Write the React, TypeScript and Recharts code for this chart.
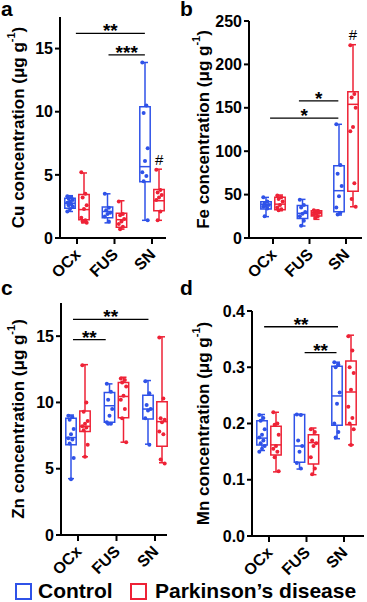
import React from "react";
import { ComposedChart, XAxis, YAxis, Scatter, ReferenceArea, ReferenceLine } from "recharts";

const BLUE = "#2f52e8";
const RED = "#ee2236";
const FONT = "Arial, 'Liberation Sans', Helvetica, sans-serif";

const regions = ["OCx", "FUS", "SN"];

// box stats per region: [min, q1, median, q3, max]
const cuCtrlBox = [[2.1, 2.35, 2.75, 3.15, 3.35], [1.2, 1.6, 2.1, 2.45, 3.5], [1.4, 4.45, 5.65, 10.4, 13.9]];
const cuPdBox = [[1.2, 1.45, 2.25, 3.45, 5.15], [0.7, 0.85, 1.45, 1.95, 2.95], [1.4, 2.15, 2.95, 3.85, 5.45]];
const cuCtrlPts = [[3.3, 3.2, 3.1, 3.0, 2.9, 2.8, 2.7, 2.6, 2.5, 2.3, 2.1], [3.5, 2.4, 2.2, 2.0, 1.9, 1.7, 1.3], [13.9, 10.5, 9.9, 7.1, 6.1, 5.2, 4.9, 4.5, 1.4]];
const cuPdPts = [[5.2, 3.5, 3.2, 2.6, 2.3, 1.6, 1.4, 1.3, 1.2], [2.9, 1.9, 1.8, 1.5, 1.3, 1.1, 0.9, 0.7], [5.4, 3.8, 3.6, 3.4, 3.2, 3.0, 2.1, 1.4]];

const feCtrlBox = [[24.6, 33.4, 38.8, 41.9, 46.8], [13.8, 22.6, 28.4, 37.3, 44.5], [26.5, 30.3, 54.5, 83.3, 131]];
const fePdBox = [[31.5, 32.5, 39, 47, 49.5], [21.5, 25.3, 29.2, 31.5, 32.2], [36, 54, 154, 168.5, 222.7]];
const feCtrlPts = [[47, 42, 40, 38, 37, 36, 34, 25], [44, 38, 35, 30, 28, 25, 20, 14], [131, 84, 74, 60, 48, 35, 29, 27]];
const fePdPts = [[49, 47, 45, 42, 38, 35, 33, 32], [32, 31, 30, 29, 28, 27, 25, 23], [222, 166, 162, 150, 128, 123, 63, 45, 36]];

const znCtrlBox = [[4.25, 6.8, 7.35, 8.8, 9.05], [8.4, 8.5, 9.75, 10.75, 11.4], [6.85, 8.75, 9.5, 10.55, 11.65]];
const znPdBox = [[5.9, 7.8, 8.2, 9.35, 12.85], [7.0, 8.85, 10.45, 11.5, 11.9], [5.45, 6.7, 8.55, 10.05, 14.95]];
const znCtrlPts = [[9.0, 8.9, 8.7, 8.0, 7.6, 7.3, 7.2, 6.9, 5.8, 4.2], [11.4, 10.8, 10.2, 9.5, 9.0, 8.5, 8.4, 8.4], [11.6, 10.7, 9.8, 9.5, 9.4, 8.8, 6.8]];
const znPdPts = [[12.8, 10.0, 9.3, 8.6, 8.4, 8.2, 8.1, 7.9, 6.8, 5.9], [11.8, 11.7, 11.5, 11.2, 10.5, 10.2, 9.5, 8.8, 7.0], [14.9, 10.3, 8.8, 8.7, 8.5, 7.8, 7.6, 5.7, 5.4]];

const mnCtrlBox = [[0.152, 0.162, 0.174, 0.205, 0.216], [0.119, 0.131, 0.16, 0.216, 0.216], [0.173, 0.197, 0.249, 0.302, 0.309]];
const mnPdBox = [[0.114, 0.144, 0.162, 0.195, 0.22], [0.109, 0.128, 0.166, 0.18, 0.192], [0.162, 0.198, 0.256, 0.311, 0.357]];
const mnCtrlPts = [[0.215, 0.21, 0.205, 0.19, 0.18, 0.175, 0.17, 0.165, 0.16, 0.155, 0.15], [0.216, 0.215, 0.17, 0.16, 0.15, 0.13, 0.12], [0.309, 0.305, 0.3, 0.255, 0.235, 0.2, 0.185, 0.175]];
const mnPdPts = [[0.22, 0.2, 0.198, 0.18, 0.16, 0.155, 0.15, 0.14, 0.115], [0.19, 0.185, 0.17, 0.165, 0.16, 0.14, 0.12, 0.11], [0.355, 0.33, 0.3, 0.29, 0.26, 0.23, 0.21, 0.2, 0.19, 0.162]];

// significance bars: [from, to, y, text]
const cuSig: [number, number, number, string][] = [[0.97, 2.81, 16.2, "**"], [1.84, 2.81, 14.5, "***"]];
const feSig: [number, number, number, string][] = [[0.92, 2.79, 138, "*"], [1.71, 2.79, 158, "*"]];
const znSig: [number, number, number, string][] = [[0.87, 2.83, 16.26, "**"], [0.87, 1.72, 14.74, "**"]];
const mnSig: [number, number, number, string][] = [[0.87, 2.84, 0.372, "**"], [1.95, 2.8, 0.326, "**"]];
const cuMarks: [number, number, string][] = [[3.19, 5.8, "#"]];
const feMarks: [number, number, string][] = [[3.19, 228, "#"]];

const cuTicks = [0, 5, 10, 15];
const feTicks = [0, 50, 100, 150, 200, 250];
const znTicks = [0, 5, 10, 15];
const mnTicks = [0, 0.1, 0.2, 0.3, 0.4];

const jitter = (i: number) => (((i * 3) % 5) - 2) * 0.035;

interface PanelProps {
  element: string;
  ctrlBox: number[][];
  pdBox: number[][];
  ctrlPts: number[][];
  pdPts: number[][];
  sig: [number, number, number, string][];
  marks: [number, number, string][];
  yTicks: number[];
  yMax: number;
  fmt: (v: number) => string;
  left: number;
  top: number;
  width: number;
  height: number;
  plotLeft: number;
  plotTop: number;
  plotBottom: number;
  plotRight: number;
  tick1: number;
  tick3: number;
  labelX: number;
}

// rotated category label, same pattern as the recharts custom tick demo
const SlantTick = (props: any) => {
  const { x, y, payload } = props;
  const t = regions[Math.round(payload.value) - 1] ?? "";
  return (
    <g transform={`translate(${x - 4},${y + 1})`}>
      <text x={0} y={0} dy={12} textAnchor="end" transform="rotate(-45)"
        fontSize={16} fontWeight="bold" fontFamily={FONT} fill="#000">
        {t}
      </text>
    </g>
  );
};

function Panel(p: PanelProps) {
  const sp = (p.tick3 - p.tick1) / 2;
  const d0 = 1 - (p.tick1 - p.plotLeft) / sp;
  const d1 = 3 + (p.plotRight - p.tick3) / sp;
  const off = 7 / sp;
  const hw = 5.2 / sp;
  const cap = 3 / sp;

  const boxes = [
    { stats: p.ctrlBox, color: BLUE, shift: -off, pts: p.ctrlPts },
    { stats: p.pdBox, color: RED, shift: off, pts: p.pdPts },
  ];

  const labelFn = (props: any) => {
    const vb = props.viewBox || { x: 0, y: p.plotTop, height: p.plotBottom - p.plotTop };
    const cx = p.labelX;
    const cy = vb.y + vb.height / 2;
    return (
      <text x={cx} y={cy} transform={`rotate(-90, ${cx}, ${cy})`} textAnchor="middle" dominantBaseline="central"
        fontSize={17} fontWeight="bold" fontFamily={FONT} fill="#000">
        {p.element} concentration (μg g<tspan dy={-7} fontSize={11}>-1</tspan><tspan dy={7}>)</tspan>
      </text>
    );
  };

  return (
    <div style={{ position: "absolute", left: p.left, top: p.top }}>
      <ComposedChart
        width={p.width}
        height={p.height}
        margin={{ top: p.plotTop, right: p.width - p.plotRight, left: 0, bottom: 0 }}
        style={{ overflow: "visible" }}
      >
        <XAxis
          type="number"
          dataKey="x"
          domain={[d0, d1]}
          ticks={[1, 2, 3]}
          interval={0}
          allowDataOverflow
          height={p.height - p.plotBottom}
          tick={SlantTick}
          tickSize={6}
          axisLine={{ stroke: "#000", strokeWidth: 2 }}
          tickLine={{ stroke: "#000", strokeWidth: 2 }}
        />
        <YAxis
          type="number"
          dataKey="y"
          domain={[0, p.yMax]}
          ticks={p.yTicks}
          allowDataOverflow
          width={p.plotLeft}
          tickFormatter={p.fmt}
          tickSize={5}
          axisLine={{ stroke: "#000", strokeWidth: 2 }}
          tickLine={{ stroke: "#000", strokeWidth: 2 }}
          tick={{ fontSize: 16, fontWeight: "bold", fontFamily: FONT, fill: "#000" }}
          label={labelFn}
        />
        {boxes.map((b, gi) =>
          b.stats.map((s, ri) => {
            const cx = ri + 1 + b.shift;
            const [mn, q1, md, q3, mx] = s;
            return [
              <ReferenceLine key={`wt${gi}${ri}`} segment={[{ x: cx, y: q3 }, { x: cx, y: mx }]} stroke={b.color} strokeWidth={1.5} ifOverflow="visible" />,
              <ReferenceLine key={`wb${gi}${ri}`} segment={[{ x: cx, y: mn }, { x: cx, y: q1 }]} stroke={b.color} strokeWidth={1.5} ifOverflow="visible" />,
              <ReferenceLine key={`ct${gi}${ri}`} segment={[{ x: cx - cap, y: mx }, { x: cx + cap, y: mx }]} stroke={b.color} strokeWidth={1.5} ifOverflow="visible" />,
              <ReferenceLine key={`cb${gi}${ri}`} segment={[{ x: cx - cap, y: mn }, { x: cx + cap, y: mn }]} stroke={b.color} strokeWidth={1.5} ifOverflow="visible" />,
              <ReferenceArea key={`bx${gi}${ri}`} x1={cx - hw} x2={cx + hw} y1={q1} y2={q3} fill="none" fillOpacity={0} stroke={b.color} strokeWidth={1.5} strokeOpacity={1} ifOverflow="visible" />,
              <ReferenceLine key={`md${gi}${ri}`} segment={[{ x: cx - hw, y: md }, { x: cx + hw, y: md }]} stroke={b.color} strokeWidth={1.5} ifOverflow="visible" />,
            ];
          })
        )}
        {boxes.map((b, gi) => (
          <Scatter
            key={`pts${gi}`}
            data={b.pts.flatMap((arr, ri) => arr.map((v, i) => ({ x: ri + 1 + b.shift + jitter(i) * (hw / 0.135), y: v })))}
            isAnimationActive={false}
            shape={(s: any) => <circle cx={s.cx} cy={s.cy} r={2} fill={b.color} />}
          />
        ))}
        {p.sig.map(([a, bb, y], i) => (
          <ReferenceLine key={`sg${i}`} segment={[{ x: a, y }, { x: bb, y }]} stroke="#000" strokeWidth={1.3} ifOverflow="visible" />
        ))}
        <Scatter
          data={[
            ...p.sig.map(([a, bb, y, t]) => ({ x: (a + bb) / 2, y, t })),
            ...p.marks.map(([x, y, t]) => ({ x, y, t: t, mark: true })),
          ]}
          isAnimationActive={false}
          shape={(s: any) => (
            <text x={s.cx} y={s.cy} dy={s.payload.mark ? 0 : 4} textAnchor="middle"
              fontSize={s.payload.mark ? 15 : 19} fontWeight={s.payload.mark ? "normal" : "bold"} fontFamily={FONT} fill="#000">
              {s.payload.t}
            </text>
          )}
        />
      </ComposedChart>
    </div>
  );
}

const fmt1 = (v: number) => String(v);
const fmtMn = (v: number) => v.toFixed(1);

export default function App() {
  return (
    <div style={{ position: "absolute", left: 0, top: 0, width: 367, height: 602, background: "#fff", fontFamily: FONT }}>
      <Panel element="Cu" ctrlBox={cuCtrlBox} pdBox={cuPdBox} ctrlPts={cuCtrlPts} pdPts={cuPdPts} sig={cuSig} marks={cuMarks}
        yTicks={cuTicks} yMax={17.5} fmt={fmt1} left={0} top={0} width={185} height={290}
        plotLeft={60} plotTop={17} plotBottom={238} plotRight={166} tick1={77} tick3={152} labelX={18} />
      <Panel element="Fe" ctrlBox={feCtrlBox} pdBox={fePdBox} ctrlPts={feCtrlPts} pdPts={fePdPts} sig={feSig} marks={feMarks}
        yTicks={feTicks} yMax={250} fmt={fmt1} left={180} top={0} width={187} height={290}
        plotLeft={69} plotTop={21} plotBottom={238} plotRight={182} tick1={93} tick3={166} labelX={23} />
      <Panel element="Zn" ctrlBox={znCtrlBox} pdBox={znPdBox} ctrlPts={znCtrlPts} pdPts={znPdPts} sig={znSig} marks={[]}
        yTicks={znTicks} yMax={17.5} fmt={fmt1} left={0} top={280} width={185} height={300}
        plotLeft={61} plotTop={23} plotBottom={255} plotRight={167} tick1={78} tick3={155} labelX={18} />
      <Panel element="Mn" ctrlBox={mnCtrlBox} pdBox={mnPdBox} ctrlPts={mnCtrlPts} pdPts={mnPdPts} sig={mnSig} marks={[]}
        yTicks={mnTicks} yMax={0.4} fmt={fmtMn} left={180} top={280} width={187} height={300}
        plotLeft={72} plotTop={31} plotBottom={256} plotRight={184} tick1={89} tick3={164} labelX={23} />
      <svg width={367} height={602} style={{ position: "absolute", left: 0, top: 0, pointerEvents: "none" }}
        fontFamily={FONT} fontWeight="bold">
        <text x={1} y={16} fontSize={21}>a</text>
        <text x={180} y={16} fontSize={21}>b</text>
        <text x={1} y={295} fontSize={21}>c</text>
        <text x={180} y={295} fontSize={21}>d</text>
        <rect x={16} y={584} width={15} height={15} fill="none" stroke={BLUE} strokeWidth={2} />
        <text x={38} y={598} fontSize={21}>Control</text>
        <rect x={131} y={584} width={15} height={15} fill="none" stroke={RED} strokeWidth={2} />
        <text x={155} y={598} fontSize={21}>Parkinson’s disease</text>
      </svg>
    </div>
  );
}
